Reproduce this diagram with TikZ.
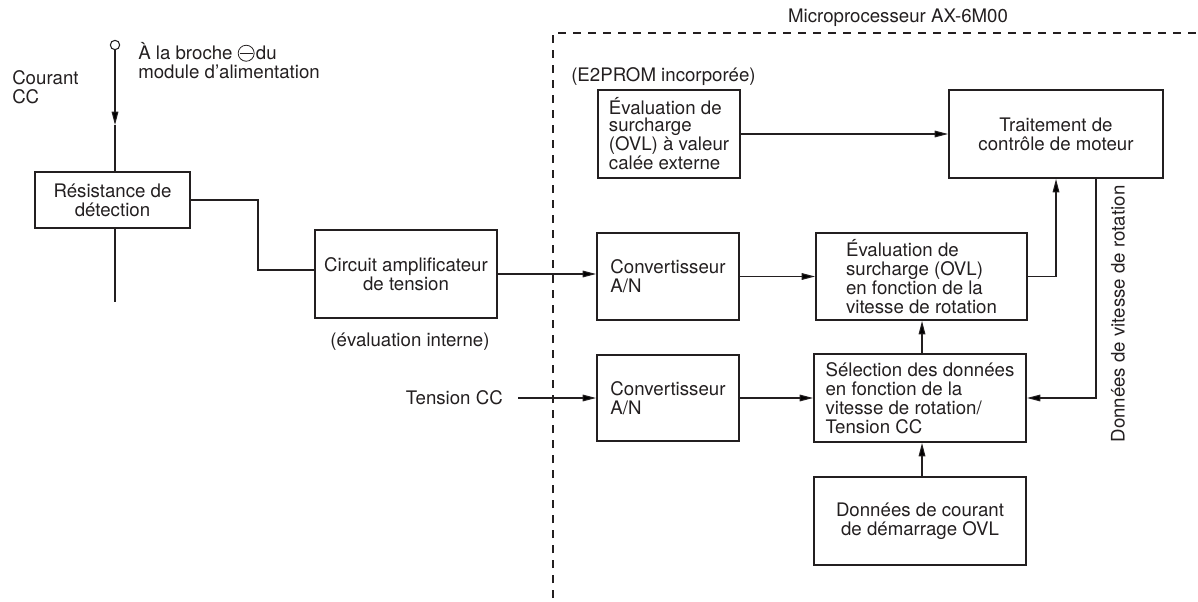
\documentclass[tikz,border=0pt]{standalone}
\usepackage{fontspec}
\setmainfont{TeX Gyre Heros}
\usetikzlibrary{arrows.meta}
\definecolor{ink}{HTML}{231F20}
% circled minus sign for the supply pin
\newcommand{\negpin}{\tikz[baseline={(0pt,-5pt)}]{%
  \draw[ink, line width=0.6pt] (0pt,0pt) circle [radius=6pt];
  \draw[ink, line width=0.6pt] (-5pt,0pt) -- (5pt,0pt);}}
\begin{document}
\begin{tikzpicture}[x=0.75pt, y=-0.75pt,
  every node/.style={text=ink, font=\fontsize{14}{14.25}\selectfont},
  blk/.style n args={2}{draw=ink, line width=1.5pt, rectangle, inner sep=0pt,
    minimum width=#1*0.75pt, minimum height=#2*0.75pt},
  wire/.style={draw=ink, line width=0.8pt},
  arr/.style={wire, -{Triangle[length=10pt, width=5pt]}},
  frame/.style={draw=ink, line width=0.8pt, dash pattern=on 6pt off 5.25pt},
  lbl/.style={inner sep=0pt}]
\useasboundingbox (0,0) rectangle (1198,602);

% microprocessor boundary
\draw[frame] (553,598) -- (553,33) -- (1198,33);
\node[lbl] (mpu) at (898,18) {Microprocesseur AX-6M00};
\node[lbl, anchor=west] (eeprom) at (571,77) {(E2PROM incorporée)};

% supply terminal and sensing resistor
\node[circle, draw=ink, line width=0.8pt, inner sep=0pt, minimum size=7pt] (term) at (115,45) {};
\node[lbl, anchor=west, align=left] (pin) at (138,61)
  {À la broche \negpin\hspace{1pt}du\\module d'alimentation};
\node[lbl, anchor=west, align=left] (dc) at (12,87.5) {Courant\\CC};
\node[blk={155}{56}, align=center] (res) at (112.5,200) {Résistance de\\détection};
\coordinate (tip) at (115,125);
\coordinate (gnd) at (115,302);
\draw[arr] (term) -- (tip);
\draw[wire] (tip) -- (tip |- res.north);
\draw[wire] (term |- res.south) -- (gnd);

% amplifier
\node[blk={182}{88}, align=center] (amp) at (406,274) {Circuit amplificateur\\de tension};
\node[lbl] (internal) at (410,342) {(évaluation interne)};
\coordinate (bend) at (258,270);
\draw[wire] (res.east) -| (bend) -- (amp.west |- bend);

% converters
\node[blk={142}{87}, align=left] (conv1) at (668,276.5) {Convertisseur\\A/N};
\node[blk={142}{86}, align=left] (conv2) at (668,398) {Convertisseur\\A/N};
\node[lbl, anchor=east] (vdc) at (503,398) {Tension CC};
\coordinate (vdcend) at (518,398);
\draw[arr] (amp.east) -- (conv1.west |- amp.east);
\draw[arr] (vdcend) -- (conv2.west |- vdcend);

% processing blocks
\node[blk={142}{88}, align=left, font=\fontsize{14}{12.5}\selectfont] (ovlx) at (669,134)
  {Évaluation de\\surcharge\\(OVL) à valeur\\calée externe};
\node[blk={214}{88}, align=center] (trait) at (1056,134) {Traitement de\\contrôle de moteur};
\node[blk={211}{87}, align=left] (eval) at (921.5,276.5)
  {Évaluation de\\surcharge (OVL)\\en fonction de la\\vitesse de rotation};
\node[blk={212}{88}, align=left] (sel) at (920,398)
  {Sélection des données\\en fonction de la\\vitesse de rotation/\\Tension CC};
\node[blk={212}{88}, align=center] (donn) at (920,521)
  {Données de courant\\de démarrage OVL};

\draw[arr] (ovlx.east) -- (trait.west |- ovlx.east);
\draw[arr] (conv1.east) -- (eval.west |- conv1.east);
\draw[arr] (conv2.east) -- (sel.west |- conv2.east);
\draw[arr] (eval.east) -| (trait.south);
\coordinate (fb) at (1096,0);
\draw[arr] (trait.south -| fb) |- (sel.east);
\draw[arr] (sel.north -| 922,0) -- (eval.south -| 922,0);
\draw[arr] (donn.north -| 922,0) -- (sel.south -| 922,0);
\node[lbl, rotate=90] (speed) at (1118,314) {Données de vitesse de rotation};
\end{tikzpicture}
\end{document}
